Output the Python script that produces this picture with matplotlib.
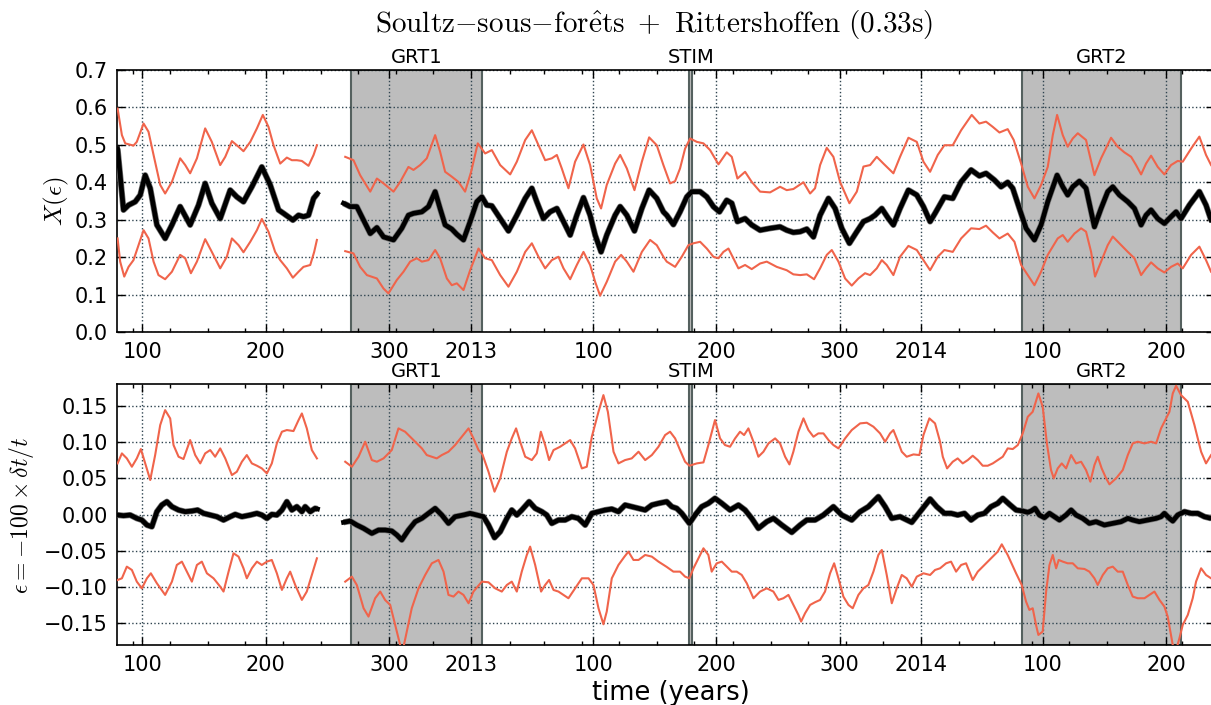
import numpy as np
import matplotlib
matplotlib.use("Agg")
import matplotlib.pyplot as plt
import matplotlib.transforms as mtransforms

plt.rcParams["mathtext.fontset"] = "cm"
plt.rcParams["font.family"] = "DejaVu Sans"

nan = np.nan

# time axis: days counted from 2012-01-01
# top panel X(eps): (day, value)
top_mid = [
    (78.8, .490), (83.6, .326), (87.7, .339), (93.1, .348), (97.2, .366), (101.2, .419), (105.3, .384),
    (110.7, .286), (117.4, .250), (122.9, .286), (129.6, .335), (137.7, .286), (144.5, .339), (149.9, .397),
    (155.3, .344), (162.1, .303), (170.2, .379), (175.6, .361), (181.0, .348), (187.8, .388), (195.9, .441),
    (202.7, .393), (209.5, .326), (213.5, .317), (221.1, .299), (225.7, .312), (229.7, .308), (233.8, .312),
    (237.9, .357), (241.1, .370), (250.0, nan),
    (262.2, .344), (267.6, .335), (273.0, .335), (278.5, .299), (283.9, .263), (289.3, .279), (294.7, .254),
    (302.8, .246), (309.5, .277), (314.9, .312), (319.0, .317), (325.8, .321), (331.2, .335), (336.6, .375),
    (340.6, .330), (344.7, .286), (350.1, .275), (354.2, .261), (359.6, .246), (365.0, .295), (370.4, .348),
    (374.5, .361), (378.5, .339), (382.6, .337), (389.4, .303), (396.1, .270), (402.9, .312), (409.7, .357),
    (415.1, .384), (419.1, .348), (424.5, .303), (429.9, .321), (435.4, .330), (440.8, .295), (446.2, .259),
    (451.6, .312), (457.0, .359), (462.4, .312), (466.5, .259), (471.3, .214), (475.9, .259), (482.7, .312),
    (486.8, .335), (492.2, .312), (498.4, .270), (504.4, .330), (510.3, .379), (516.5, .357), (521.9, .321),
    (524.6, .312), (530.0, .287), (535.4, .321), (540.9, .361), (544.9, .375), (551.7, .375), (557.1, .361),
    (562.5, .335), (567.4, .321), (573.3, .352), (577.4, .344), (582.0, .295), (588.2, .303), (593.6, .286),
    (600.4, .272), (608.5, .277), (616.6, .281), (622.0, .272), (627.4, .266), (632.9, .268), (638.3, .275),
    (643.7, .254), (649.1, .312), (655.9, .357), (661.3, .330), (666.7, .277), (672.9, .237), (678.9, .268),
    (684.3, .295), (689.7, .303), (693.7, .312), (699.2, .330), (704.6, .303), (708.6, .286), (714.0, .330),
    (720.8, .379), (727.6, .366), (733.0, .335), (738.4, .295), (742.4, .317), (750.0, .361), (756.8, .357),
    (763.6, .401), (771.7, .433), (778.4, .417), (783.8, .424), (790.6, .406), (796.0, .388), (801.4, .400),
    (805.5, .384), (810.9, .330), (816.3, .277), (823.1, .246), (828.5, .286), (833.9, .348), (841.5, .419),
    (846.1, .388), (850.1, .366), (854.2, .388), (859.6, .403), (865.0, .384), (871.8, .281), (877.2, .330),
    (882.6, .375), (886.7, .388), (892.1, .366), (898.9, .348), (904.3, .330), (909.7, .286), (913.7, .312),
    (917.8, .326), (923.2, .303), (928.6, .290), (934.0, .308), (938.1, .321), (942.1, .303), (948.9, .339),
    (957.0, .375), (962.4, .339), (966.5, .299),
]
top_hi = [
    (78.8, .597), (82.3, .526), (85.0, .504), (91.7, .498), (94.4, .508), (99.9, .557), (103.9, .535),
    (108.0, .473), (113.4, .393), (117.4, .370), (122.9, .401), (129.6, .464), (133.7, .446), (137.7, .424),
    (143.2, .464), (149.9, .544), (155.3, .508), (162.1, .446), (166.2, .468), (171.6, .510), (177.0, .495),
    (181.0, .483), (186.5, .508), (191.9, .544), (196.7, .580), (201.3, .548), (205.4, .499), (210.8, .450),
    (216.2, .466), (220.3, .459), (224.3, .459), (228.4, .457), (233.8, .444), (237.9, .473), (240.6, .499),
    (250.0, nan),
    (263.6, .468), (270.3, .459), (275.7, .419), (283.9, .375), (289.3, .410), (294.7, .397), (302.8, .375),
    (308.2, .401), (314.9, .441), (319.0, .433), (324.4, .446), (329.8, .464), (336.6, .526), (340.6, .482),
    (344.7, .428), (350.1, .415), (355.5, .401), (360.9, .375), (365.8, .428), (371.2, .504), (377.2, .477),
    (382.6, .486), (389.4, .446), (397.5, .421), (402.9, .455), (409.7, .513), (415.1, .539), (420.5, .499),
    (425.9, .459), (431.3, .464), (435.4, .473), (439.4, .437), (444.8, .384), (450.2, .455), (457.0, .501),
    (462.4, .446), (467.8, .357), (471.3, .330), (475.9, .393), (482.7, .450), (486.8, .473), (492.2, .437),
    (498.4, .379), (504.4, .455), (510.3, .520), (516.5, .499), (521.9, .446), (527.3, .397), (531.4, .403),
    (535.4, .437), (539.5, .490), (543.6, .517), (549.0, .508), (554.4, .504), (559.8, .486), (566.6, .448),
    (573.3, .480), (577.4, .468), (582.0, .410), (588.2, .428), (593.6, .401), (600.4, .375), (608.5, .373),
    (616.6, .388), (622.0, .379), (627.4, .382), (635.6, .400), (641.0, .370), (645.0, .384), (649.1, .446),
    (654.5, .492), (659.9, .468), (665.3, .401), (672.9, .344), (678.9, .375), (684.3, .442), (689.7, .446),
    (695.1, .468), (700.5, .450), (708.6, .424), (714.0, .468), (720.8, .519), (727.6, .508), (733.0, .455),
    (738.4, .428), (744.6, .473), (750.0, .499), (756.8, .499), (763.6, .539), (772.2, .580), (778.4, .557),
    (783.8, .562), (789.3, .548), (794.7, .533), (801.4, .542), (806.3, .513), (812.3, .450), (817.7, .388),
    (823.1, .357), (828.5, .393), (833.9, .441), (838.0, .526), (841.5, .580), (846.1, .526), (850.1, .495),
    (854.2, .517), (858.3, .531), (865.0, .513), (871.8, .419), (877.2, .464), (885.3, .519), (890.7, .495),
    (896.1, .480), (901.6, .468), (905.6, .446), (909.7, .421), (913.7, .450), (917.8, .471), (923.2, .441),
    (928.6, .421), (934.0, .446), (939.4, .457), (943.5, .455), (950.3, .490), (957.0, .522), (962.4, .473),
    (966.5, .446),
]
top_lo = [
    (78.8, .250), (80.9, .188), (84.2, .148), (87.7, .174), (91.7, .192), (95.8, .232), (99.9, .272),
    (103.9, .250), (108.0, .188), (112.0, .152), (117.4, .141), (122.9, .161), (129.6, .206), (133.7, .197),
    (138.3, .157), (143.2, .188), (149.9, .248), (155.3, .214), (162.1, .170), (167.5, .201), (171.6, .250),
    (177.0, .232), (181.0, .213), (186.5, .241), (191.9, .272), (195.9, .302), (201.3, .268), (206.7, .214),
    (210.8, .192), (216.2, .170), (221.1, .145), (225.7, .161), (229.7, .174), (235.2, .179), (238.4, .214),
    (240.6, .246), (250.0, nan),
    (263.6, .216), (270.3, .210), (275.7, .174), (281.2, .152), (289.3, .143), (294.7, .116), (298.7, .103),
    (305.5, .139), (310.9, .161), (316.3, .188), (321.7, .197), (325.8, .188), (331.2, .192), (336.6, .219),
    (340.6, .197), (346.1, .143), (350.1, .125), (354.2, .130), (359.6, .112), (365.0, .165), (371.8, .223),
    (377.2, .197), (382.6, .192), (389.4, .152), (396.1, .121), (402.9, .161), (409.7, .214), (415.1, .237),
    (420.5, .201), (425.9, .170), (431.3, .192), (436.7, .201), (440.8, .170), (446.2, .141), (451.6, .179),
    (457.0, .214), (462.4, .179), (466.5, .134), (470.5, .097), (475.9, .134), (482.7, .188), (487.6, .206),
    (492.2, .188), (497.6, .161), (504.4, .214), (511.1, .246), (516.5, .232), (521.9, .201), (524.6, .188),
    (531.4, .174), (536.8, .201), (542.2, .232), (546.3, .237), (551.7, .241), (557.1, .223), (562.5, .201),
    (566.6, .197), (570.6, .214), (574.7, .223), (578.7, .197), (582.8, .170), (588.2, .179), (593.6, .168),
    (600.4, .183), (605.8, .188), (613.9, .174), (622.0, .165), (627.4, .154), (632.9, .152), (638.3, .154),
    (644.2, .141), (649.1, .170), (654.5, .206), (658.6, .219), (664.0, .188), (669.4, .143), (674.8, .124),
    (680.2, .143), (685.6, .157), (689.7, .152), (695.1, .170), (699.2, .192), (703.2, .179), (708.6, .152),
    (714.0, .201), (720.8, .230), (727.6, .219), (733.0, .192), (738.4, .165), (744.6, .201), (750.0, .219),
    (756.8, .214), (763.6, .250), (771.7, .277), (778.4, .275), (783.8, .284), (789.3, .266), (794.7, .250),
    (801.4, .263), (806.9, .241), (812.3, .179), (817.7, .152), (823.1, .125), (828.5, .161), (833.9, .206),
    (842.0, .250), (846.1, .259), (850.1, .241), (855.6, .263), (861.0, .277), (865.0, .268), (869.1, .214),
    (872.3, .148), (877.2, .188), (882.6, .232), (886.7, .255), (892.1, .237), (898.9, .214), (904.3, .197),
    (909.7, .152), (913.7, .170), (917.8, .186), (923.2, .170), (928.6, .159), (934.0, .174), (939.4, .183),
    (943.5, .170), (950.3, .206), (957.0, .228), (962.4, .192), (966.5, .161),
]

# bottom panel eps = -100 dt/t
bot_mid = [
    (78.8, -.0007), (83.6, -.0016), (89.0, -.0007), (94.4, -.0053), (98.5, -.0076), (102.6, -.0145),
    (106.6, -.0168), (110.7, .0039), (114.7, .0131), (118.8, .0177), (122.9, .0108), (128.3, .0062),
    (133.7, .0039), (139.1, .0048), (143.7, .0062), (148.6, .0016), (154.0, -.0007), (159.4, -.0030),
    (164.8, -.0076), (170.2, -.0030), (174.3, .0002), (179.7, -.0030), (186.5, -.0007), (191.9, .0016),
    (195.9, -.0007), (200.0, -.0053), (204.0, .0002), (208.1, -.0007), (212.2, .0062), (216.2, .0177),
    (220.3, .0062), (224.3, .0108), (228.4, .0039), (231.1, .0108), (235.2, .0039), (239.2, .0085),
    (241.1, .0076), (250.0, nan),
    (262.2, -.0108), (267.6, -.0090), (273.0, -.0145), (278.5, -.0191), (285.2, -.0260), (290.6, -.0214),
    (296.0, -.0214), (301.4, -.0227), (305.5, -.0282), (309.5, -.0351), (314.9, -.0214), (320.4, -.0099),
    (325.8, -.0053), (331.2, .0016), (336.6, .0085), (342.0, -.0007), (347.4, -.0122), (352.8, -.0030),
    (359.6, -.0007), (365.0, .0016), (370.4, -.0007), (375.8, -.0030), (379.9, -.0145), (384.8, -.0319),
    (389.4, -.0237), (394.8, -.0053), (398.8, .0062), (402.9, -.0007), (406.9, .0062), (412.9, .0177),
    (417.8, .0085), (423.2, .0039), (427.2, -.0007), (431.3, -.0122), (436.7, -.0076), (442.1, -.0076),
    (447.5, -.0030), (452.9, -.0053), (458.4, -.0145), (463.8, .0016), (469.2, .0039), (474.6, .0062),
    (480.0, .0076), (485.4, .0039), (490.8, .0131), (496.2, .0108), (501.7, .0085), (507.1, .0062),
    (512.5, .0131), (517.9, .0154), (524.6, .0177), (528.7, .0108), (532.7, .0085), (536.8, .0016),
    (543.0, -.0122), (547.6, -.0007), (553.0, .0108), (558.4, .0154), (563.8, .0223), (569.3, .0154),
    (576.0, .0062), (582.8, .0131), (588.2, .0062), (593.6, -.0053), (599.0, -.0191), (605.8, -.0099),
    (611.2, -.0053), (618.0, -.0145), (626.1, -.0246), (632.9, -.0145), (638.3, -.0076), (645.0, -.0076),
    (651.8, -.0007), (659.9, .0108), (666.7, -.0007), (674.8, -.0076), (681.6, .0039), (688.3, .0108),
    (696.4, .0246), (701.9, .0108), (707.3, -.0053), (714.0, -.0030), (723.5, -.0108), (730.3, .0039),
    (738.4, .0214), (743.8, .0108), (750.0, .0016), (755.4, .0016), (760.8, -.0007), (766.3, .0016),
    (771.7, -.0076), (777.1, -.0007), (782.5, .0016), (787.9, .0108), (793.3, .0154), (797.4, .0223),
    (802.8, .0140), (808.2, .0062), (813.6, .0048), (817.7, .0030), (820.4, .0048), (823.6, .0085),
    (827.1, -.0007), (831.2, -.0044), (835.3, .0016), (839.3, -.0030), (843.4, -.0076), (848.8, -.0007),
    (852.9, .0062), (856.9, -.0007), (862.3, -.0053), (867.7, -.0122), (873.1, -.0099), (879.9, -.0145),
    (886.7, -.0122), (893.4, -.0099), (898.9, -.0053), (902.9, -.0076), (908.3, -.0099), (915.1, -.0076),
    (921.9, -.0053), (925.9, -.0030), (928.6, .0016), (932.7, -.0053), (935.4, -.0090), (939.4, -.0007),
    (944.9, .0039), (950.3, .0016), (955.7, .0016), (961.1, -.0030), (966.5, -.0053),
]
bot_hi = [
    (78.8, .0705), (82.3, .0843), (86.3, .0774), (90.4, .0659), (94.4, .0774), (97.7, .0903), (101.2, .0705),
    (105.3, .0476), (109.3, .0820), (113.4, .1234), (117.4, .1440), (121.5, .1325), (124.2, .0958),
    (128.3, .0797), (132.3, .0765), (137.7, .1027), (141.8, .0820), (145.9, .0705), (149.9, .0843),
    (154.0, .0889), (158.0, .0797), (162.1, .0912), (166.2, .0774), (171.6, .0544), (175.6, .0590),
    (179.7, .0728), (183.7, .0820), (187.8, .0705), (191.9, .0673), (195.9, .0636), (200.0, .0567),
    (204.0, .0705), (208.1, .0981), (212.2, .1142), (216.2, .1165), (221.6, .1151), (225.7, .1302),
    (228.4, .1394), (232.4, .1188), (236.5, .0889), (240.6, .0774), (250.0, nan),
    (263.6, .0728), (269.0, .0659), (274.4, .0797), (279.8, .1004), (285.2, .0751), (289.3, .0728),
    (294.7, .0774), (301.4, .0889), (306.8, .1188), (312.2, .1142), (316.3, .1073), (321.7, .0981),
    (325.8, .0912), (329.8, .0820), (333.9, .0797), (337.9, .0774), (342.0, .0820), (347.4, .0866),
    (352.8, .0958), (358.2, .1073), (363.7, .1188), (367.7, .1050), (371.8, .0889), (375.0, .0829),
    (379.9, .0590), (384.8, .0315), (389.4, .0499), (394.8, .0866), (398.8, .1050), (402.3, .1188),
    (405.6, .1004), (409.7, .0797), (415.1, .0751), (419.1, .0843), (422.4, .1142), (425.9, .0958),
    (429.1, .0751), (432.7, .0889), (438.1, .0935), (442.1, .0981), (446.2, .1027), (450.2, .0912),
    (455.7, .0636), (459.7, .0659), (463.8, .1073), (469.2, .1417), (473.2, .1647), (476.8, .1417),
    (481.4, .0866), (485.4, .0705), (490.8, .0751), (496.2, .0774), (501.7, .0866), (507.1, .0751),
    (512.5, .0820), (517.9, .0935), (523.3, .1096), (527.3, .1142), (531.4, .1050), (535.4, .0889),
    (539.5, .0728), (543.0, .0673), (549.0, .0705), (554.4, .0719), (558.4, .0958), (563.8, .1303),
    (567.9, .1050), (571.9, .0958), (576.0, .0935), (580.1, .1050), (584.1, .1142), (587.4, .1096),
    (590.9, .1188), (595.0, .1004), (599.0, .0797), (603.1, .0866), (607.2, .0981), (612.6, .1050),
    (616.6, .0981), (620.7, .0797), (624.2, .0691), (627.4, .0866), (631.5, .1142), (635.6, .1326),
    (639.6, .1165), (643.7, .1073), (647.7, .1119), (651.8, .1119), (655.9, .1027), (659.9, .0958),
    (664.0, .0912), (669.4, .1050), (674.8, .1165), (681.6, .1257), (687.0, .1266), (692.4, .1211),
    (697.8, .1119), (701.9, .1004), (705.9, .1119), (708.6, .1165), (711.3, .1050), (715.4, .0866),
    (719.4, .0797), (724.9, .0829), (729.7, .0820), (733.0, .1096), (737.8, .1326), (742.4, .1257),
    (746.5, .1004), (748.7, .0797), (752.2, .0636), (756.8, .0728), (760.8, .0774), (764.9, .0705),
    (769.0, .0751), (773.0, .0811), (777.1, .0751), (781.1, .0673), (785.2, .0673), (789.3, .0705),
    (793.3, .0751), (797.4, .0797), (801.4, .0912), (805.5, .0903), (809.6, .0958), (813.6, .1119),
    (817.7, .1348), (821.7, .1417), (826.3, .1670), (829.8, .1486), (833.4, .0958), (836.6, .0613),
    (838.8, .0499), (842.0, .0636), (845.3, .0705), (848.8, .0636), (852.9, .0820), (856.9, .0705),
    (861.0, .0728), (865.0, .0613), (868.5, .0453), (871.8, .0682), (874.5, .0797), (877.7, .0636),
    (881.3, .0499), (884.0, .0416), (889.4, .0499), (894.8, .0613), (898.9, .0820), (902.9, .0981),
    (907.0, .1004), (912.4, .0981), (917.8, .1004), (921.9, .0981), (925.9, .1188), (930.0, .1325),
    (932.7, .1417), (935.4, .1670), (938.1, .1776), (942.1, .1647), (947.6, .1555), (953.0, .1234),
    (958.4, .0866), (962.4, .0705), (966.5, .0820),
]
bot_lo = [
    (78.8, -.0903), (82.3, -.0880), (86.3, -.0719), (90.4, -.0765), (94.4, -.0926), (98.5, -.1018),
    (102.6, -.0880), (105.8, -.0811), (110.7, -.0949), (117.4, -.1109), (122.9, -.0926), (126.9, -.0696),
    (131.0, -.0650), (135.0, -.0788), (139.1, -.0926), (143.2, -.0696), (147.2, -.0650), (151.3, -.0811),
    (156.7, -.0880), (162.1, -.0995), (164.8, -.1063), (168.9, -.0788), (172.9, -.0535), (177.0, -.0581),
    (181.0, -.0742), (183.7, -.0880), (187.8, -.0742), (191.9, -.0650), (195.9, -.0696), (200.0, -.0650),
    (204.0, -.0627), (208.1, -.0811), (212.2, -.1040), (216.2, -.0880), (218.9, -.0788), (223.0, -.0972),
    (228.4, -.1178), (232.4, -.1063), (236.5, -.0834), (240.6, -.0604), (250.0, nan),
    (263.6, -.0926), (269.0, -.0857), (273.0, -.0972), (278.5, -.1293), (282.5, -.1408), (287.9, -.1155),
    (292.0, -.1063), (296.0, -.1180), (300.1, -.1247), (304.1, -.1523), (308.2, -.1800), (310.0, -.1900),
    (313.6, -.1615), (317.6, -.1293), (323.1, -.1018), (328.5, -.0834), (333.9, -.0673), (339.3, -.0627),
    (343.4, -.0788), (347.4, -.1109), (351.5, -.1132), (355.5, -.1063), (359.6, -.1109), (363.7, -.1224),
    (367.7, -.1063), (374.5, -.0926), (379.9, -.0935), (385.3, -.1018), (390.7, -.1063), (394.8, -.0972),
    (398.8, -.0926), (402.9, -.1063), (406.9, -.0788), (411.0, -.0558), (413.7, -.0443), (417.8, -.0696),
    (422.6, -.1063), (425.9, -.0972), (429.1, -.0903), (432.7, -.1041), (436.7, -.1063), (440.8, -.1109),
    (444.8, -.1155), (450.2, -.1018), (455.7, -.0880), (461.1, -.0880), (465.1, -.0972), (469.2, -.1293),
    (473.2, -.1514), (475.9, -.1339), (480.0, -.0880), (485.4, -.0696), (490.3, -.0581), (493.5, -.0512),
    (497.6, -.0627), (501.7, -.0627), (507.1, -.0558), (512.5, -.0581), (517.9, -.0650), (524.6, -.0723),
    (530.0, -.0788), (535.4, -.0788), (539.5, -.0857), (543.0, -.0880), (546.3, -.0742), (550.3, -.0604),
    (554.4, -.0466), (558.4, -.0558), (561.1, -.0788), (565.2, -.0673), (569.3, -.0650), (573.3, -.0719),
    (577.4, -.0788), (581.4, -.0788), (585.5, -.0834), (589.6, -.0949), (595.0, -.1155), (600.4, -.1063),
    (605.8, -.1018), (611.2, -.1063), (615.3, -.1178), (619.3, -.1155), (623.4, -.1109), (627.4, -.1247),
    (631.5, -.1385), (633.7, -.1477), (636.9, -.1362), (641.0, -.1247), (645.0, -.1210), (649.1, -.1178),
    (653.1, -.1063), (657.2, -.0811), (660.5, -.0673), (664.0, -.0880), (668.0, -.1132), (672.1, -.1247),
    (675.6, -.1293), (680.2, -.1109), (684.3, -.1018), (688.3, -.0972), (692.4, -.0788), (696.4, -.0558),
    (699.2, -.0489), (703.2, -.0834), (707.3, -.1224), (711.3, -.1018), (715.4, -.0834), (719.4, -.0880),
    (723.5, -.0995), (727.6, -.0857), (733.0, -.0811), (738.4, -.0834), (742.4, -.0765), (746.5, -.0742),
    (751.4, -.0673), (755.4, -.0650), (759.5, -.0788), (763.6, -.0696), (767.6, -.0673), (773.0, -.0903),
    (777.1, -.0788), (782.5, -.0696), (787.9, -.0604), (793.3, -.0512), (796.6, -.0411), (801.4, -.0558),
    (808.2, -.0811), (812.8, -.0972), (816.3, -.1201), (819.0, -.1316), (821.7, -.1293), (824.4, -.1523),
    (826.3, -.1661), (829.8, -.1615), (832.6, -.1063), (835.3, -.0696), (838.0, -.0558), (840.7, -.0742),
    (842.8, -.0627), (846.1, -.0650), (850.1, -.0673), (854.2, -.0673), (858.3, -.0742), (863.7, -.0751),
    (867.7, -.0788), (871.8, -.0880), (874.5, -.0972), (878.6, -.0834), (882.6, -.0742), (886.7, -.0719),
    (890.7, -.0788), (894.8, -.0788), (898.9, -.0972), (902.9, -.1132), (907.0, -.1155), (912.4, -.1155),
    (916.4, -.1109), (920.5, -.1063), (924.6, -.1178), (928.6, -.1270), (931.3, -.1408), (933.5, -.1615),
    (935.4, -.1800), (938.1, -.1870), (940.8, -.1707), (943.5, -.1523), (947.6, -.1385), (951.6, -.1155),
    (954.3, -.0926), (958.4, -.0742), (962.4, -.0834), (966.5, -.0880),
]

# shaded periods (start, end in days) and their labels
periods = [("GRT1", 268.4, 375.0), ("STIM", 542.5, 545.5), ("GRT2", 812.9, 942.2)]

# major ticks: (year, day of year)
major = [(2012, 100), (2012, 200), (2012, 300), (2013, 1), (2013, 100), (2013, 200),
         (2013, 300), (2014, 1), (2014, 100), (2014, 200)]
year_start = {2012: 0, 2013: 366, 2014: 731}

red = "#f0644b"
fig = plt.figure(figsize=(12.11, 7.05), dpi=100)
ax1 = fig.add_axes([0.097, 0.5291, 0.9055, 0.3716])
ax2 = fig.add_axes([0.097, 0.0851, 0.9055, 0.3702])

xt = [year_start[y] + d - 1 for y, d in major]
xl = [str(y) if d == 1 else str(d) for y, d in major]
months = np.arange(np.datetime64("2012-03"), np.datetime64("2014-10"), dtype="datetime64[M]")
xm = (months.astype("datetime64[D]") - np.datetime64("2012-01-01")).astype(float)


def panel(ax, mid, hi, lo, ylim, yt, ytl):
    for s in (hi, lo):
        t, v = np.array(s).T
        ax.plot(t, v, color=red, lw=1.5, zorder=3)
    t, v = np.array(mid).T
    ax.plot(t, v, color="0.45", lw=4.4, zorder=3.5, solid_capstyle="butt")
    ax.plot(t, v, color="k", lw=3.4, zorder=4)
    trans = mtransforms.blended_transform_factory(ax.transData, ax.transAxes)
    for name, a, b in periods:
        ax.axvspan(a, b, facecolor="#bdbdbd", edgecolor="#55615f", lw=1.5, zorder=1)
        ax.text((a + b) / 2, 1.012, name, transform=trans, ha="center", va="bottom", fontsize=14)
    ax.set_xticks(xt)
    ax.set_xticklabels(xl)
    ax.set_xticks(xm, minor=True)
    ax.set_yticks(yt)
    ax.set_yticklabels(ytl)
    # limits last, set_xticks would widen them
    ax.set_xlim(78.7, 968.9)
    ax.set_ylim(*ylim)
    ax.grid(True, which="major", linestyle=":", color="#2f4450", lw=1.0)
    ax.tick_params(which="both", direction="in", top=True, right=True, labelsize=15)
    ax.tick_params(which="major", length=6, width=1, pad=7)
    ax.tick_params(which="minor", length=3, width=1)
    for sp in ax.spines.values():
        sp.set_linewidth(1.2)


yt1 = [0.0, 0.1, 0.2, 0.3, 0.4, 0.5, 0.6, 0.7]
panel(ax1, top_mid, top_hi, top_lo, (0, 0.7), yt1, ["%.1f" % y for y in yt1])
yt2 = [-0.15, -0.10, -0.05, 0.0, 0.05, 0.10, 0.15]
panel(ax2, bot_mid, bot_hi, bot_lo, (-0.18, 0.18), yt2,
      [("%.2f" % y).replace("-", "\u2212") for y in yt2])

fig.text(0.540, 0.9645, r"$\mathrm{Soultz{-}sous{-}for\hat{e}ts\ +\ Rittershoffen\ (0.33s)}$",
         ha="center", va="center", fontsize=21)
fig.text(56 / 1211, 1 - 201 / 705, r"$X(\epsilon)$", rotation=90, ha="center", va="center", fontsize=18)
fig.text(22 / 1211, 1 - 515 / 705, r"$\epsilon=-100\times\delta t/t$", rotation=90,
         ha="center", va="center", fontsize=17)
fig.text(0.554, 0.017, "time (years)", ha="center", va="center", fontsize=18.5)

fig.savefig("out.png", dpi=100, facecolor="white")
